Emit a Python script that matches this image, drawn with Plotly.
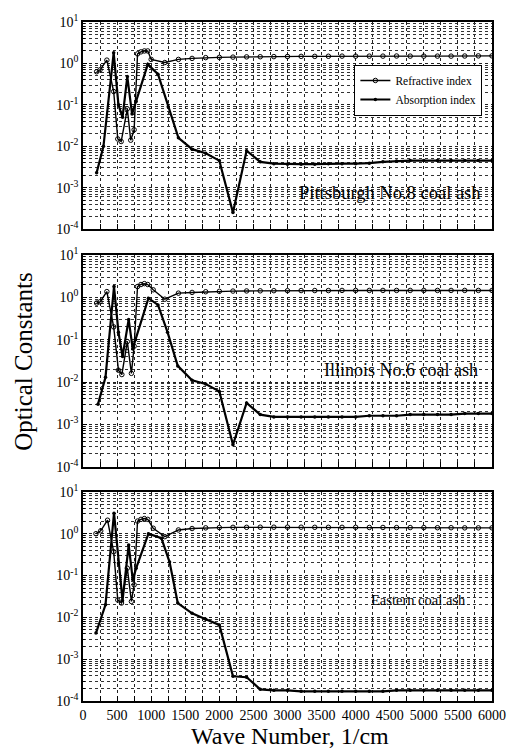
import plotly.graph_objects as go
from plotly.subplots import make_subplots

# ---------------- data ----------------
FLAT_X = [1600, 1800, 2000, 2200, 2400, 2600, 2800, 3000, 3200, 3400, 3600, 3800,
          4000, 4200, 4400, 4600, 4800, 5000, 5200, 5400, 5600, 5800, 6000]

# Panel 1: Pittsburgh No.8
p1_n_x = [200, 250, 350, 450, 510, 560, 650, 700, 750, 800, 850, 900, 950, 1000, 1200, 1400] + FLAT_X
p1_n_y = [0.63, 0.7, 1.2, 0.21, 0.015, 0.013, 0.08, 0.014, 0.025, 1.7, 1.9, 2.0, 2.0, 1.25, 1.05, 1.25,
          1.32, 1.38, 1.4, 1.42, 1.44, 1.45, 1.46, 1.47, 1.48, 1.48, 1.49, 1.5,
          1.5, 1.5, 1.5, 1.51, 1.5, 1.5, 1.5, 1.5, 1.51, 1.52, 1.52]
p1_k_x = [200, 300, 450, 520, 580, 650, 720, 780, 950, 1100, 1250, 1400, 1600, 1800, 2000, 2200, 2400,
          2600, 2800, 3000, 3200, 3400, 3600, 3800, 4000, 4200, 4400, 4600, 4800, 5000, 5200, 5400,
          5600, 5800, 6000]
p1_k_y = [0.0023, 0.01, 1.8, 0.1, 0.05, 0.48, 0.06, 0.12, 0.95, 0.55, 0.09, 0.016, 0.0085, 0.0068,
          0.0045, 0.00025, 0.0078, 0.0042, 0.0038, 0.0037, 0.0037, 0.0037, 0.0038, 0.0038, 0.0038,
          0.0039, 0.0042, 0.0044, 0.0045, 0.0045, 0.0045, 0.0045, 0.0045, 0.0045, 0.0045]

# Panel 2: Illinois No.6
p2_n_x = [200, 250, 350, 450, 520, 570, 650, 710, 750, 800, 850, 900, 950, 1030, 1200, 1400] + FLAT_X
p2_n_y = [0.73, 0.78, 1.36, 0.2, 0.019, 0.015, 0.09, 0.016, 0.07, 1.79, 2.0, 2.1, 2.0, 1.5, 0.9, 1.25,
          1.3, 1.35, 1.38, 1.4, 1.41, 1.42, 1.43, 1.43, 1.44, 1.44, 1.44, 1.45,
          1.45, 1.45, 1.45, 1.45, 1.45, 1.45, 1.45, 1.45, 1.45, 1.45, 1.45]
p2_k_x = [220, 330, 455, 520, 580, 670, 730, 770, 960, 1100, 1240, 1390, 1600, 1800, 2000, 2200, 2400,
          2600, 2800, 3000, 3200, 3400, 3600, 3800, 4000, 4200, 4400, 4600, 4800, 5000, 5200, 5400,
          5600, 5800, 6000]
p2_k_y = [0.003, 0.013, 1.79, 0.15, 0.04, 0.3, 0.06, 0.1, 0.95, 0.66, 0.15, 0.024, 0.011, 0.009,
          0.006, 0.00033, 0.0032, 0.0017, 0.0015, 0.0015, 0.0015, 0.0015, 0.0015, 0.0015, 0.0015,
          0.0016, 0.0016, 0.0016, 0.0017, 0.0017, 0.0017, 0.0017, 0.0018, 0.0018, 0.0018]

# Panel 3: Eastern
p3_n_x = [190, 260, 360, 450, 510, 565, 650, 710, 750, 800, 850, 900, 950, 1030, 1200, 1400] + FLAT_X
p3_n_y = [1.0, 1.17, 2.1, 0.37, 0.026, 0.022, 0.15, 0.024, 0.06, 2.0, 2.2, 2.3, 2.2, 1.35, 0.85, 1.23,
          1.33, 1.38, 1.4, 1.42, 1.42, 1.43, 1.43, 1.43, 1.43, 1.42, 1.42, 1.42,
          1.42, 1.41, 1.41, 1.4, 1.4, 1.4, 1.39, 1.39, 1.38, 1.38, 1.38]
p3_k_x = [190, 330, 455, 520, 580, 670, 730, 780, 960, 1150, 1270, 1390, 1600, 1800, 2000, 2200, 2400,
          2600, 2800, 3000, 3200, 3400, 3600, 3800, 4000, 4200, 4400, 4600, 4800, 5000, 5200, 5400,
          5600, 5800, 6000]
p3_k_y = [0.0042, 0.02, 3.1, 0.2, 0.025, 0.54, 0.08, 0.15, 1.0, 0.78, 0.21, 0.022, 0.0125, 0.009,
          0.0066, 0.00039, 0.00037, 0.00019, 0.00018, 0.00018, 0.00017, 0.00017, 0.00017, 0.00017,
          0.00017, 0.00017, 0.00017, 0.00018, 0.00018, 0.00018, 0.00018, 0.00018, 0.00018, 0.00018, 0.00018]

panel_labels = ["Pittsburgh No.8 coal ash", "Illinois No.6 coal ash", "Eastern coal ash"]
series_names = ["Refractive index", "Absorption index"]
x_ticks = [0, 500, 1000, 1500, 2000, 2500, 3000, 3500, 4000, 4500, 5000, 5500, 6000]
y_tickvals = [1e-4, 1e-3, 1e-2, 1e-1, 1e0, 1e1]
y_ticktext = ["10<sup>-4</sup>", "10<sup>-3</sup>", "10<sup>-2</sup>",
              "10<sup>-1</sup>", "10<sup>0</sup>", "10<sup>1</sup>"]

# ---------------- figure ----------------
FONT = "Liberation Serif, Times New Roman, serif"
fig = make_subplots(rows=3, cols=1, shared_xaxes=False, vertical_spacing=0.04)

panels = [(p1_n_x, p1_n_y, p1_k_x, p1_k_y),
          (p2_n_x, p2_n_y, p2_k_x, p2_k_y),
          (p3_n_x, p3_n_y, p3_k_x, p3_k_y)]

for i, (nx, ny, kx, ky) in enumerate(panels):
    r = i + 1
    fig.add_trace(go.Scatter(x=nx, y=ny, mode="lines+markers", name=series_names[0],
                             line=dict(color="black", width=1.4),
                             marker=dict(symbol="circle-open", size=4.5, color="black",
                                         line=dict(width=1, color="black")),
                             showlegend=(i == 0)), row=r, col=1)
    fig.add_trace(go.Scatter(x=kx, y=ky, mode="lines+markers", name=series_names[1],
                             line=dict(color="black", width=2.2),
                             marker=dict(symbol="circle", size=3.5, color="black"),
                             showlegend=(i == 0)), row=r, col=1)

domains = [[0.695, 1.0], [0.345, 0.657], [0.0, 0.308]]
for i in range(3):
    r = i + 1
    fig.update_yaxes(type="log", range=[-4, 1], tickvals=y_tickvals, ticktext=y_ticktext,
                     domain=domains[i], showline=True, mirror=True, linecolor="black",
                     linewidth=1.5, ticks="inside", ticklen=4, tickcolor="black",
                     showgrid=True, gridcolor="#222", griddash="dot", gridwidth=1,
                     minor=dict(dtick="D1", showgrid=True, gridcolor="#333", griddash="dot",
                                gridwidth=0.8, ticks="inside", ticklen=2, tickcolor="black"),
                     tickfont=dict(family=FONT, size=14, color="black"),
                     zeroline=False, row=r, col=1)
    fig.update_xaxes(range=[0, 6000], tickvals=x_ticks, showticklabels=(r == 3),
                     showline=True, mirror=True, linecolor="black", linewidth=1.5,
                     ticks="inside", ticklen=5, tickcolor="black",
                     showgrid=True, gridcolor="#222", griddash="dot", gridwidth=1,
                     minor=dict(dtick=250, showgrid=True, gridcolor="#222", griddash="dot",
                                gridwidth=1, ticks="inside", ticklen=5, tickcolor="black"),
                     tickfont=dict(family=FONT, size=14, color="black"),
                     zeroline=False, row=r, col=1)

label_pos = [(5870, -3.13), (5830, -1.71), (5650, -1.58)]
label_sizes = [18.5, 18, 14.5]
for i in range(3):
    r = i + 1
    xref = "x" if r == 1 else f"x{r}"
    yref = "y" if r == 1 else f"y{r}"
    fig.add_annotation(x=label_pos[i][0], y=label_pos[i][1], xref=xref, yref=yref,
                       text=panel_labels[i], showarrow=False, xanchor="right", yanchor="middle",
                       font=dict(family=FONT, size=label_sizes[i], color="black"))

fig.add_annotation(x=-0.146, y=0.5, xref="paper", yref="paper", text="Optical Constants",
                   textangle=-90, showarrow=False, xanchor="center", yanchor="middle",
                   font=dict(family=FONT, size=25, color="black"))
fig.add_annotation(x=0.506, y=-0.0715, xref="paper", yref="paper", text="Wave Number, 1/cm",
                   showarrow=False, xanchor="center", yanchor="bottom", borderpad=0,
                   font=dict(family=FONT, size=24, color="black"))

fig.update_layout(width=518, height=751, margin=dict(l=83, r=18, t=22, b=50),
                  paper_bgcolor="white", plot_bgcolor="white",
                  font=dict(family=FONT, color="black"),
                  legend=dict(x=0.976, y=0.937, xanchor="right", yanchor="top",
                              bgcolor="white", bordercolor="black", borderwidth=1.2,
                              font=dict(family=FONT, size=11.5, color="black"),
                              itemwidth=30, tracegroupgap=0),
                  )

fig.write_html("out.html")
